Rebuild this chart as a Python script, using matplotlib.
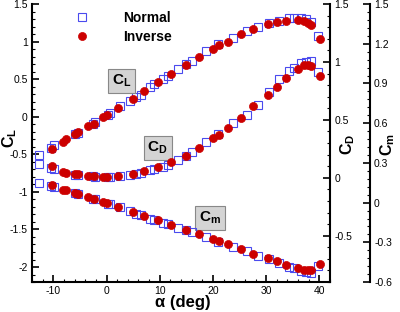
import matplotlib
matplotlib.use('Agg')
import matplotlib.pyplot as plt
from matplotlib.ticker import MultipleLocator, FormatStrFormatter

plt.rcParams['font.family'] = ['Liberation Sans', 'DejaVu Sans']
plt.rcParams['mathtext.fontset'] = 'custom'
plt.rcParams['mathtext.rm'] = 'Liberation Sans'
plt.rcParams['mathtext.bf'] = 'Liberation Sans:bold'
plt.rcParams['axes.unicode_minus'] = False

# Normal (open squares)
alpha_n = [-12.7, -10.4, -9.8, -6.0, -5.4, -2.6, -2.2, 0.2, 0.6, 2.6, 4.4, 5.6, 6.5,
           8.1, 9.0, 10.6, 11.5, 13.4, 14.9, 16.1, 18.7, 21.0, 23.7, 26.4, 28.5,
           30.5, 32.5, 34.3, 35.2, 36.5, 37.5, 38.5, 39.7]
cl_n = [-0.51, -0.41, -0.38, -0.23, -0.21, -0.09, -0.07, 0.03, 0.05, 0.14, 0.21, 0.26, 0.29,
        0.39, 0.43, 0.50, 0.54, 0.63, 0.70, 0.74, 0.87, 0.97, 1.05, 1.14, 1.20,
        1.25, 1.28, 1.31, 1.32, 1.32, 1.30, 1.26, 1.08]
cd_n = [0.12, 0.087, 0.08, 0.025, 0.02, 0.012, 0.011, 0.01, 0.011, 0.017, 0.026, 0.034, 0.04,
        0.064, 0.072, 0.09, 0.11, 0.156, 0.19, 0.22, 0.306, 0.38, 0.47, 0.546, 0.63,
        0.74, 0.85, 0.92, 0.95, 0.99, 1.00, 1.01, 0.91]
cm_n = [0.149, 0.128, 0.118, 0.07, 0.062, 0.03, 0.025, -0.008, -0.012, -0.035, -0.066, -0.086, -0.095,
        -0.124, -0.133, -0.155, -0.165, -0.19, -0.208, -0.222, -0.26, -0.298, -0.336, -0.369, -0.40,
        -0.427, -0.457, -0.485, -0.495, -0.513, -0.525, -0.528, -0.48]

# Inverse (filled circles)
alpha_i = [-10.3, -8.1, -7.6, -6.0, -5.3, -3.5, -2.4, -0.7, 0.1, 2.1, 4.9, 7.1, 9.6, 12.2,
           14.9, 17.3, 20.1, 21.2, 22.8, 25.3, 27.6, 30.3, 32.0, 33.7, 36.0, 37.2, 37.8,
           38.4, 40.2]
cl_i = [-0.43, -0.33, -0.30, -0.23, -0.20, -0.12, -0.09, 0.00, 0.02, 0.11, 0.24, 0.34, 0.46, 0.57,
        0.69, 0.80, 0.90, 0.95, 1.00, 1.10, 1.17, 1.24, 1.26, 1.28, 1.29, 1.27, 1.25,
        1.22, 1.03]
cd_i = [0.098, 0.05, 0.045, 0.035, 0.03, 0.017, 0.015, 0.011, 0.011, 0.017, 0.035, 0.055, 0.093, 0.133,
        0.19, 0.257, 0.344, 0.37, 0.43, 0.517, 0.618, 0.719, 0.786, 0.864, 0.936, 0.97, 0.97,
        0.964, 0.878]
cm_i = [0.131, 0.098, 0.092, 0.073, 0.068, 0.043, 0.03, 0.005, -0.002, -0.033, -0.07, -0.098, -0.134, -0.167,
        -0.205, -0.238, -0.275, -0.29, -0.313, -0.348, -0.386, -0.419, -0.44, -0.47, -0.495, -0.508, -0.51,
        -0.508, -0.462]

blue = '#4a4aee'
red = '#cc0000'
sq = dict(marker='s', ls='none', ms=5.6, mfc='none', mec=blue, mew=0.8)
ci = dict(marker='o', ls='none', ms=5.8, mfc=red, mec=red, mew=0.5)

fig = plt.figure(figsize=(4, 3.12), dpi=100)
ax = fig.add_axes([0.08, 0.096, 0.745, 0.891])
ax2 = ax.twinx()
ax3 = ax.twinx()
ax3.spines['right'].set_position(('axes', 1.134))

ax.plot(alpha_n, cl_n, label='Normal', **sq)
ax.plot(alpha_i, cl_i, label='Inverse', **ci)
ax2.plot(alpha_n, cd_n, **sq)
ax2.plot(alpha_i, cd_i, **ci)
ax3.plot(alpha_n, cm_n, **sq)
ax3.plot(alpha_i, cm_i, **ci)

ax.set_xlim(-14, 42)
ax.set_ylim(-2.2, 1.5)
ax2.set_ylim(-0.9, 1.5)
ax3.set_ylim(-0.6, 1.5)

ax.xaxis.set_major_locator(MultipleLocator(10))
ax.xaxis.set_minor_locator(MultipleLocator(2))
ax.yaxis.set_major_locator(MultipleLocator(0.5))
ax.yaxis.set_minor_locator(MultipleLocator(0.1))
ax2.yaxis.set_major_locator(MultipleLocator(0.5))
ax2.yaxis.set_minor_locator(MultipleLocator(0.1))
ax3.yaxis.set_major_locator(MultipleLocator(0.3))
ax3.yaxis.set_minor_locator(MultipleLocator(0.06))
ax.yaxis.set_major_formatter(FormatStrFormatter('%g'))
ax2.yaxis.set_major_formatter(FormatStrFormatter('%g'))
ax3.yaxis.set_major_formatter(FormatStrFormatter('%g'))

for a in (ax, ax2, ax3):
    a.tick_params(which='major', direction='in', length=5, width=1.2, labelsize=7.5, pad=3)
    a.tick_params(which='minor', direction='in', length=2.5, width=0.8)
    for s in a.spines.values():
        s.set_linewidth(1.5)
    a.spines['top'].set_visible(False)
ax2.spines['left'].set_visible(False)
ax3.spines['left'].set_visible(False)
ax.spines['right'].set_visible(False)
ax2.spines['bottom'].set_visible(False)
ax3.spines['bottom'].set_visible(False)

ax.set_xlabel('α (deg)', fontsize=12, fontweight='bold')
ax.xaxis.set_label_coords(0.507, -0.046)
ax.xaxis.label.set_va('top')
ax.set_ylabel(r'$\mathbf{C_L}$', fontsize=11.5)
ax2.set_ylabel(r'$\mathbf{C_D}$', fontsize=11.5)
ax3.set_ylabel(r'$\mathbf{C_m}$', fontsize=11.5)
ax.yaxis.set_label_coords(-0.076, 0.518)
ax2.yaxis.set_label_coords(1.06, 0.496)
ax3.yaxis.set_label_coords(1.195, 0.496)
for a in (ax, ax2, ax3):
    a.yaxis.label.set_va('center')

box = dict(boxstyle='square,pad=0.25', fc='#d4d4d4', ec='#888888', lw=0.8)
ax.text(2.8, 0.48, r'$\mathbf{C_L}$', fontsize=11, ha='center', va='center', bbox=box)
ax.text(9.6, -0.41, r'$\mathbf{C_D}$', fontsize=11, ha='center', va='center', bbox=box)
ax.text(19.4, -1.35, r'$\mathbf{C_m}$', fontsize=11, ha='center', va='center', bbox=box)

ax.legend(loc='upper left', bbox_to_anchor=(0.09, 1.02), frameon=False,
          prop={'weight': 'bold', 'size': 10}, handletextpad=2.2,
          labelspacing=0.35, handlelength=1.5)

fig.savefig('out.png', dpi=100)
